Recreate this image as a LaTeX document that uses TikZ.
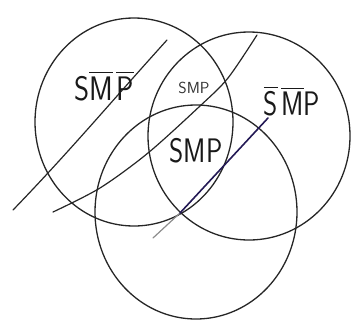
\documentclass[tikz,border=0pt]{standalone}
\usepackage{amsmath}
\begin{document}
\begin{tikzpicture}[x=1pt,y=-1pt,
  ring/.style={draw=black!85, line width=1.3pt},
  stroke/.style={draw=black!85, line width=1.2pt, line cap=round},
  lbl/.style={font=\sffamily\fontsize{34}{36}\selectfont, inner sep=0pt, text=black!90},
  smalllbl/.style={font=\sffamily\fontsize{16}{18}\selectfont, inner sep=0pt, text=black!80}]
\useasboundingbox (0,0) rectangle (358,327);
% circles
\coordinate (cA) at (134,122);
\coordinate (cB) at (249,136);
\coordinate (cC) at (196,212);
\draw[ring] (cA) ellipse [x radius=99pt, y radius=104pt];
\draw[ring] (cB) ellipse [x radius=101pt, y radius=104pt];
\draw[ring] (cC) ellipse [x radius=101pt, y radius=107pt];
% slanted strokes
\coordinate (l1a) at (13,210);
\coordinate (l1d) at (167,40);
\draw[stroke] (l1a) .. controls (70,151) and (110,103) .. (l1d);
\coordinate (l2a) at (53,212);
\coordinate (l2b) at (100,188);
\coordinate (l2c) at (148,153);
\coordinate (l2d) at (200,106);
\coordinate (l2e) at (228,78);
\coordinate (l2f) at (257,35);
\draw[stroke] plot[smooth] coordinates {(l2a) (l2b) (l2c) (l2d) (l2e) (l2f)};
\coordinate (l3a) at (153,238);
\coordinate (l3b) at (180,213);
\coordinate (l3c) at (268,118);
\draw[stroke, draw=black!45] (l3a) -- (l3b);
\draw[stroke, draw={rgb,255:red,35;green,25;blue,85}, line width=1.6pt] (l3b) -- (l3c);
% labels
\node[lbl] (t1) at (104,86) {\scalebox{0.85}[1]{S$\overline{\text{M}}\,\overline{\text{P}}$}};
\node[smalllbl] (t2) at (194,88) {SMP};
\node[lbl] (t3) at (196,151) {\scalebox{0.8}[1]{SMP}};
\node[lbl] (t4) at (292,101) {\scalebox{0.8}[1]{$\overline{\text{S}}\,\overline{\text{M}}$P}};
\end{tikzpicture}
\end{document}
